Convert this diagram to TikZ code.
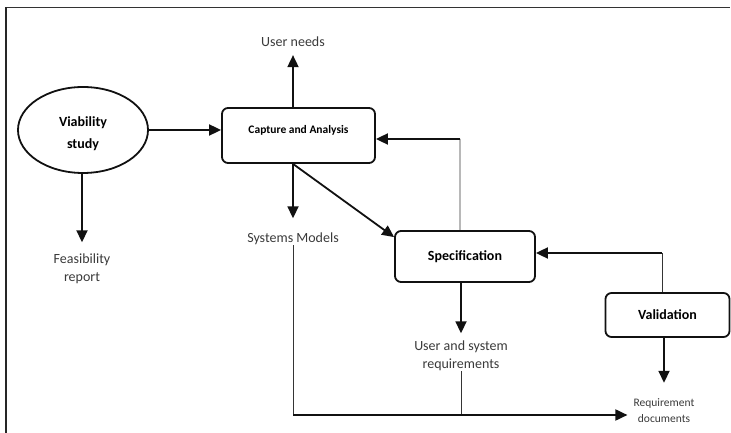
\documentclass[tikz,border=0pt]{standalone}
\usepackage{fontspec}
\setmainfont{Carlito}
\usetikzlibrary{arrows.meta,shapes.geometric}
\definecolor{outtxt}{HTML}{3A3A3A}
\definecolor{ln}{HTML}{111111}
\begin{document}
\begin{tikzpicture}[x=1bp,y=-1bp,
  box/.style={draw=ln, line width=1.8bp, rounded corners=6bp, font=\fontsize{14bp}{16bp}\selectfont\bfseries, inner sep=0},
  outp/.style={text=outtxt, font=\fontsize{14bp}{18bp}\selectfont, align=center, inner sep=0},
  arr/.style={draw=ln, line width=1.8bp, -{Triangle[length=12bp,width=11bp]}},
  thinln/.style={draw=ln!85, line width=0.9bp},
]
\useasboundingbox (0,0) rectangle (731,433);
\draw[line width=1.3bp, draw=black!80] (5,7.5) -- (730,7.5);
\draw[line width=1.5bp, draw=black!85] (6,7.5) -- (6,433);

\node[ellipse, draw=ln, line width=1.8bp, minimum width=130bp, minimum height=86bp, inner sep=0, align=center, font=\fontsize{14bp}{22bp}\selectfont\bfseries] (via) at (83,130) {\rule{0pt}{18bp}Viability\\study};
\node[box, minimum width=153bp, minimum height=55bp, font=\fontsize{11.5bp}{14bp}\selectfont\bfseries] (cap) at (298.5,135.5) {Capture and Analysis\rule[-12bp]{0pt}{12bp}};
\node[box, minimum width=140bp, minimum height=51bp] (spec) at (465,256.5) {Specification};
\node[box, minimum width=124bp, minimum height=44bp] (val) at (667.5,315) {Validation};

\node[outp] (un) at (293,42) {User needs};
\node[outp] (sm) at (293,239) {Systems Models};
\node[outp] (fr) at (82,269) {Feasibility\\report};
\node[outp] (usr) at (461,356) {User and system\\requirements};
\node[outp, font=\fontsize{11.5bp}{16bp}\selectfont] (rd) at (664,411) {Requirement\\documents};

\coordinate (fb1) at (460,139);
\coordinate (fb2) at (662,253);
\coordinate (b1) at (294,415);

\draw[arr] (via.east) -- (via.east -| cap.west);
\draw[arr, shorten >=8bp] (cap.north -| un) -- (un.south);
\draw[arr, shorten >=14.5bp] (cap.south -| sm) -- (sm.north);
\draw[arr] (cap.south -| sm) -- ([yshift=-7bp]spec.north west);
\draw[arr, shorten >=11.5bp] (via.south -| fr) -- (fr.north);

\draw[thinln] ([xshift=-5bp]spec.north) -- (fb1);
\draw[arr] (fb1) -- (fb1 -| cap.east);
\draw[thinln] (val.north -| fb2) -- (fb2);
\draw[arr] (fb2) -- (fb2 -| spec.east);

\draw[arr, shorten >=7.5bp] (spec.south -| usr) -- (usr.north);
\draw[arr, shorten >=16bp] (val.south -| rd) -- (rd.north);

\draw[thinln] (sm.south) -- (sm.south |- b1);
\draw[thinln] (usr.south) -- (usr.south |- b1);
\draw[arr, shorten >=6bp] (sm.south |- b1) -- (b1 -| rd.west);
\end{tikzpicture}
\end{document}
